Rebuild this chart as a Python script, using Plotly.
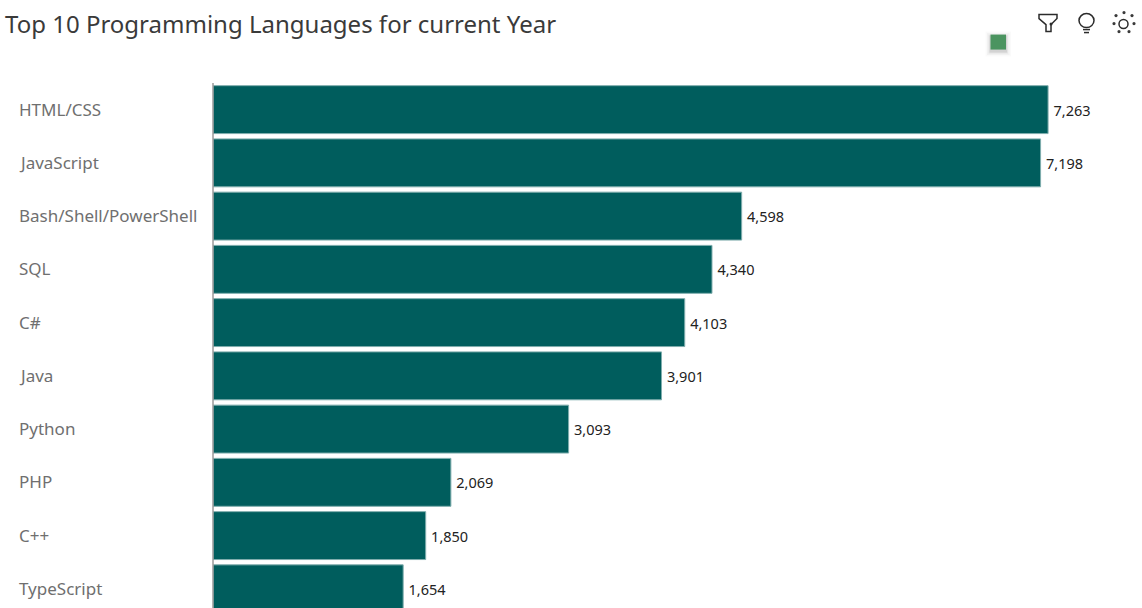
import plotly.graph_objects as go

languages = ["HTML/CSS", "JavaScript", "Bash/Shell/PowerShell", "SQL", "C#", "Java",
             "Python", "PHP", "C++", "TypeScript"]
respondents = [7263, 7198, 4598, 4340, 4103, 3901, 3093, 2069, 1850, 1654]

W, H = 1142, 608
FONT = "Noto Sans"
M_L, M_T = 213, 83.4

fig = go.Figure(go.Bar(
    x=respondents, y=languages, orientation="h",
    marker=dict(color="#005d5d", line=dict(color="#7fadad", width=1)),
    text=respondents, texttemplate="\u2009%{x:,}", textposition="outside",
    textfont=dict(family=FONT, size=14.5, color="#222222"),
    cliponaxis=False, hoverinfo="x+y",
))


def px(x):
    return (x - M_L) / (W - M_L)


def py(y):
    return 1 - (y - M_T) / (H - M_T)


def path(points, close=False):
    d = "M" + " L".join(f"{px(x):.5f},{py(y):.5f}" for x, y in points)
    return d + (" Z" if close else "")


shapes = []
# green status square with soft shadow
for grow, alpha in [(5, 0.02), (3.5, 0.03), (2, 0.05), (1, 0.08)]:
    shapes.append(dict(type="rect", xref="paper", yref="paper",
                       x0=px(990.5 - grow), x1=px(1006 + grow),
                       y0=py(35 - grow + 2), y1=py(50 + grow + 2),
                       line=dict(width=0), fillcolor=f"rgba(0,0,0,{alpha})"))
shapes.append(dict(type="rect", xref="paper", yref="paper",
                   x0=px(990.5), x1=px(1006), y0=py(35), y1=py(50),
                   line=dict(width=0), fillcolor="#4b9460"))

ICON = dict(color="#2b2b2b", width=1.5)
# filter icon with its small dot
shapes.append(dict(type="path", xref="paper", yref="paper", line=ICON,
                   path=path([(1039, 15), (1057, 15), (1057, 19), (1051, 25), (1051, 32),
                              (1046, 32), (1046, 25), (1039, 19)], close=True)))
shapes.append(dict(type="circle", xref="paper", yref="paper", line=dict(width=0),
                   fillcolor="#2b2b2b", x0=px(1049.5), x1=px(1052.5), y0=py(23), y1=py(26)))
# light bulb
shapes.append(dict(type="circle", xref="paper", yref="paper", line=ICON,
                   x0=px(1079), x1=px(1094), y0=py(14), y1=py(28)))
for y, (a, b) in [(30, (1083, 1090)), (33, (1084, 1089))]:
    shapes.append(dict(type="line", xref="paper", yref="paper", line=ICON,
                       x0=px(a), x1=px(b), y0=py(y), y1=py(y)))
# insights icon: central ring with dots around
shapes.append(dict(type="circle", xref="paper", yref="paper", line=ICON,
                   x0=px(1119), x1=px(1128), y0=py(20), y1=py(29)))
for cx, cy in [(1124, 13), (1116, 16), (1132, 16), (1114, 24), (1134, 24), (1119, 32), (1129, 32)]:
    shapes.append(dict(type="circle", xref="paper", yref="paper", line=dict(width=0),
                       fillcolor="#3a3a3a", x0=px(cx - 1.6), x1=px(cx + 1.6),
                       y0=py(cy - 1.6), y1=py(cy + 1.6)))

annotations = [dict(
    text=name, xref="paper", yref="y", x=0, y=name, xshift=-196, yshift=0.5, xanchor="left",
    showarrow=False, align="left", font=dict(family=FONT, size=17, color="#6f6f6f"),
) for name in languages]

fig.update_layout(
    width=W, height=H, autosize=False,
    margin=dict(l=M_L, r=0, t=M_T, b=0, pad=0),
    paper_bgcolor="white", plot_bgcolor="white",
    font=dict(family=FONT),
    bargap=0.1,
    showlegend=False,
    title=dict(text="Top 10 Programming Languages for current Year",
               x=5 / W, xanchor="left", xref="container", y=1 - 25 / H, yanchor="middle",
               font=dict(family=FONT, size=24, color="#3a3a3a")),
    xaxis=dict(range=[0, 8080], visible=False),
    yaxis=dict(categoryorder="array", categoryarray=languages, range=[9.36, -0.5],
               showticklabels=False, ticks="", showgrid=False, zeroline=False,
               showline=False),
    shapes=shapes + [dict(type="line", xref="paper", yref="paper", x0=0, x1=0, y0=0, y1=1,
                          line=dict(color="#9a9a9a", width=1.5))],
    annotations=annotations,
)

fig.write_html("out.html", config=dict(displayModeBar=False),
               post_script="document.body.style.margin='0';document.body.style.overflow='hidden';")
